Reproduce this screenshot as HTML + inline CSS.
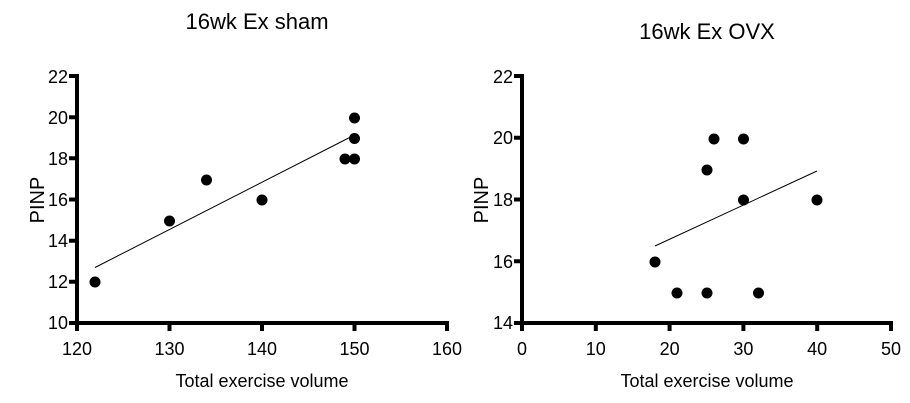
<!DOCTYPE html><html><head><style>body{margin:0;background:#fff}svg{display:block;font-family:"Liberation Sans",Arial,sans-serif}</style></head><body>
<svg width="910" height="403" viewBox="0 0 910 403">
<g font-size="22" text-anchor="middle" fill="#000">
<text x="257" y="29">16wk Ex sham</text>
<text x="707" y="39">16wk Ex OVX</text>
</g>
<g stroke="#000" stroke-width="4" fill="none">
<path d="M77 74V323H449"/>
<path d="M69 76H77M69 117.2H77M69 158.3H77M69 199.5H77M69 240.7H77M69 281.8H77M69 323H77"/>
<path d="M77 323V331M169.5 323V331M262 323V331M354.5 323V331M447 323V331"/>
<path d="M522 74V323H893"/>
<path d="M514 76H522M514 137.8H522M514 199.5H522M514 261.2H522M514 323H522"/>
<path d="M522 323V331M595.8 323V331M669.6 323V331M743.4 323V331M817.2 323V331M891 323V331"/>
</g>
<g font-size="18" fill="#000" text-anchor="end">
<text x="68" y="83">22</text><text x="68" y="124">20</text><text x="68" y="165">18</text><text x="68" y="206">16</text><text x="68" y="247">14</text><text x="68" y="288">12</text><text x="68" y="329">10</text>
<text x="513" y="83">22</text><text x="513" y="144">20</text><text x="513" y="206">18</text><text x="513" y="268">16</text><text x="513" y="329">14</text>
</g>
<g font-size="18" fill="#000" text-anchor="middle">
<text x="77" y="355">120</text><text x="169.5" y="355">130</text><text x="262" y="355">140</text><text x="354.5" y="355">150</text><text x="447" y="355">160</text>
<text x="522" y="355">0</text><text x="595.8" y="355">10</text><text x="669.6" y="355">20</text><text x="743.4" y="355">30</text><text x="817.2" y="355">40</text><text x="891" y="355">50</text>
<text x="262" y="387">Total exercise volume</text><text x="707" y="387">Total exercise volume</text>
<text font-size="20" transform="translate(44,200) rotate(-90)">PINP</text>
<text font-size="20" transform="translate(488,200) rotate(-90)">PINP</text>
</g>
<g stroke="#000" stroke-width="1">
<line x1="95" y1="267.5" x2="354.5" y2="135"/>
<line x1="655" y1="246" x2="817" y2="171"/>
</g>
<g fill="#000">
<circle cx="95" cy="282" r="5.5"/><circle cx="169.5" cy="221" r="5.5"/><circle cx="206.5" cy="180" r="5.5"/><circle cx="262" cy="200" r="5.5"/>
<circle cx="345" cy="159" r="5.5"/><circle cx="354.5" cy="159" r="5.5"/><circle cx="354.5" cy="138.5" r="5.5"/><circle cx="354.5" cy="118" r="5.5"/>
<circle cx="655" cy="262" r="5.5"/><circle cx="677" cy="293" r="5.5"/><circle cx="707" cy="293" r="5.5"/><circle cx="758.5" cy="293" r="5.5"/>
<circle cx="707" cy="170" r="5.5"/><circle cx="714" cy="139" r="5.5"/><circle cx="743.5" cy="139" r="5.5"/><circle cx="743.5" cy="200" r="5.5"/><circle cx="817" cy="200" r="5.5"/>
</g>
</svg></body></html>
